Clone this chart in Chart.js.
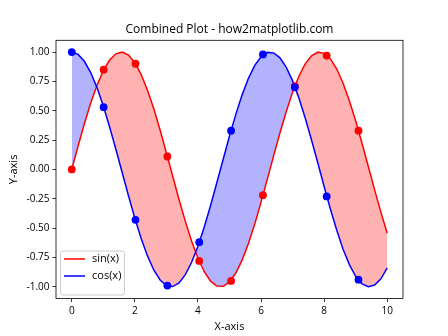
<!DOCTYPE html>
<html>
<head>
<meta charset="utf-8">
<script src="https://cdn.jsdelivr.net/npm/chart.js@4.4.1/dist/chart.umd.min.js"></script>
<style>
  html, body { margin: 0; padding: 0; background: #ffffff; }
  #wrap { width: 448px; height: 336px; }
</style>
</head>
<body>
<div id="wrap"><canvas id="chart" width="448" height="336"></canvas></div>
<script>
// Curve samples, x from 0 to 10 in steps of 0.2
const xs = [0, 0.2, 0.4, 0.6, 0.8, 1.0, 1.2, 1.4, 1.6, 1.8, 2.0, 2.2, 2.4, 2.6, 2.8, 3.0, 3.2, 3.4, 3.6, 3.8,
            4.0, 4.2, 4.4, 4.6, 4.8, 5.0, 5.2, 5.4, 5.6, 5.8, 6.0, 6.2, 6.4, 6.6, 6.8, 7.0, 7.2, 7.4, 7.6, 7.8,
            8.0, 8.2, 8.4, 8.6, 8.8, 9.0, 9.2, 9.4, 9.6, 9.8, 10.0];
const sinY = [0.000, 0.199, 0.389, 0.565, 0.717, 0.841, 0.932, 0.985, 1.000, 0.974, 0.909, 0.808, 0.675, 0.516, 0.335, 0.141,
              -0.058, -0.256, -0.443, -0.612, -0.757, -0.872, -0.952, -0.994, -0.996, -0.959, -0.883, -0.773, -0.631, -0.465,
              -0.279, -0.083, 0.117, 0.312, 0.494, 0.657, 0.794, 0.899, 0.968, 0.999, 0.989, 0.941, 0.855, 0.734, 0.585,
              0.412, 0.223, 0.025, -0.174, -0.366, -0.544];
const cosY = [1.000, 0.980, 0.921, 0.825, 0.697, 0.540, 0.362, 0.170, -0.029, -0.227, -0.416, -0.589, -0.737, -0.857, -0.942, -0.990,
              -0.998, -0.967, -0.897, -0.791, -0.654, -0.490, -0.307, -0.112, 0.087, 0.284, 0.469, 0.635, 0.776, 0.886,
              0.960, 0.997, 0.993, 0.951, 0.869, 0.754, 0.608, 0.438, 0.251, 0.054, -0.146, -0.339, -0.519, -0.680, -0.811,
              -0.911, -0.975, -0.999, -0.985, -0.932, -0.839];

// Highlighted sample points
const markX   = [0, 1.01, 2.02, 3.03, 4.04, 5.05, 6.06, 7.07, 8.08, 9.09];
const markSin = [0.00, 0.85, 0.90, 0.11, -0.78, -0.95, -0.22, 0.71, 0.97, 0.33];
const markCos = [1.00, 0.53, -0.43, -0.99, -0.62, 0.33, 0.98, 0.70, -0.23, -0.94];

const xTicks = [0, 2, 4, 6, 8, 10];
const yTicks = [-1.00, -0.75, -0.50, -0.25, 0.00, 0.25, 0.50, 0.75, 1.00];

const FONT = "'Open Sans', 'Noto Sans', sans-serif";
const pts = (xv, yv) => xv.map((x, i) => ({ x: x, y: yv[i] }));

// Black frame around the plotting area
const framePlugin = {
  id: 'frame',
  afterDatasetsDraw(chart) {
    const a = chart.chartArea, ctx = chart.ctx;
    ctx.save();
    ctx.strokeStyle = '#000000';
    ctx.lineWidth = 0.8;
    ctx.strokeRect(a.left, a.top, a.right - a.left, a.bottom - a.top);
    ctx.restore();
  }
};

// Legend box in the lower-left corner of the plotting area
const insetLegend = {
  id: 'insetLegend',
  afterDraw(chart) {
    const a = chart.chartArea, ctx = chart.ctx;
    const items = chart.data.datasets.filter(d => d.label);
    const x0 = a.left + 4, w = 64, rowH = 17, h = 8 + rowH * items.length + 2;
    const y0 = a.bottom - 4 - h;
    ctx.save();
    ctx.beginPath();
    ctx.roundRect(x0 + 0.5, y0 + 0.5, w, h, 2.5);
    ctx.fillStyle = 'rgba(255,255,255,0.8)';
    ctx.fill();
    ctx.strokeStyle = '#cccccc';
    ctx.lineWidth = 1;
    ctx.stroke();
    ctx.font = '11px ' + FONT;
    ctx.textBaseline = 'middle';
    items.forEach((d, i) => {
      const cy = y0 + 8.5 + rowH * i;
      ctx.beginPath();
      ctx.moveTo(x0 + 4, cy);
      ctx.lineTo(x0 + 25, cy);
      ctx.strokeStyle = d.borderColor;
      ctx.lineWidth = 1.5;
      ctx.stroke();
      ctx.fillStyle = '#000000';
      ctx.fillText(d.label, x0 + 32, cy);
    });
    ctx.restore();
  }
};

new Chart(document.getElementById('chart'), {
  type: 'scatter',
  data: {
    datasets: [
      {
        label: 'sin(x)',
        data: pts(xs, sinY),
        showLine: true,
        borderColor: '#ff0000',
        borderWidth: 1.5,
        pointRadius: 0,
        tension: 0,
        fill: { target: 1, above: 'rgba(255,0,0,0.3)', below: 'rgba(0,0,255,0.3)' },
        order: 4
      },
      {
        label: 'cos(x)',
        data: pts(xs, cosY),
        showLine: true,
        borderColor: '#0000ff',
        borderWidth: 1.5,
        pointRadius: 0,
        tension: 0,
        fill: false,
        order: 3
      },
      {
        data: pts(markX, markSin),
        showLine: false,
        pointRadius: 3.9,
        pointBackgroundColor: '#ff0000',
        pointBorderWidth: 0,
        order: 2
      },
      {
        data: pts(markX, markCos),
        showLine: false,
        pointRadius: 3.9,
        pointBackgroundColor: '#0000ff',
        pointBorderWidth: 0,
        order: 1
      }
    ]
  },
  options: {
    responsive: false,
    animation: false,
    devicePixelRatio: 1,
    layout: { padding: { left: 0, right: 45, top: 0, bottom: 0 } },
    plugins: {
      legend: { display: false },
      tooltip: { enabled: false },
      filler: { drawTime: 'beforeDatasetsDraw' },
      title: {
        display: true,
        fullSize: false,
        text: 'Combined Plot - how2matplotlib.com',
        color: '#000000',
        font: { family: FONT, size: 12, weight: 'normal', lineHeight: 1.2 },
        padding: { top: 22, bottom: 3.9 }
      }
    },
    scales: {
      x: {
        type: 'linear',
        min: -0.5,
        max: 10.5,
        afterBuildTicks: s => { s.ticks = xTicks.map(v => ({ value: v })); },
        afterFit: s => { s.height = 37.5; },
        grid: { display: true, drawOnChartArea: false, drawTicks: true, tickLength: 3.5, tickWidth: 0.8, tickColor: '#000000' },
        border: { display: false },
        ticks: { color: '#000000', padding: 3, font: { family: FONT, size: 10 }, maxRotation: 0, callback: v => String(v) },
        title: { display: true, text: 'X-axis', color: '#000000', font: { family: FONT, size: 11, lineHeight: 1.2 }, padding: { top: 0, bottom: 3 } }
      },
      y: {
        type: 'linear',
        min: -1.1,
        max: 1.1,
        afterBuildTicks: s => { s.ticks = yTicks.map(v => ({ value: v })); },
        afterFit: s => { s.width = 56; },
        grid: { display: true, drawOnChartArea: false, drawTicks: true, tickLength: 3.5, tickWidth: 0.8, tickColor: '#000000' },
        border: { display: false },
        ticks: { color: '#000000', padding: 3, font: { family: FONT, size: 10 }, callback: v => v.toFixed(2) },
        title: { display: true, text: 'Y-axis', color: '#000000', font: { family: FONT, size: 11, lineHeight: 1.2 }, padding: { top: 7, bottom: 0 } }
      }
    }
  },
  plugins: [framePlugin, insetLegend]
});
</script>
</body>
</html>
